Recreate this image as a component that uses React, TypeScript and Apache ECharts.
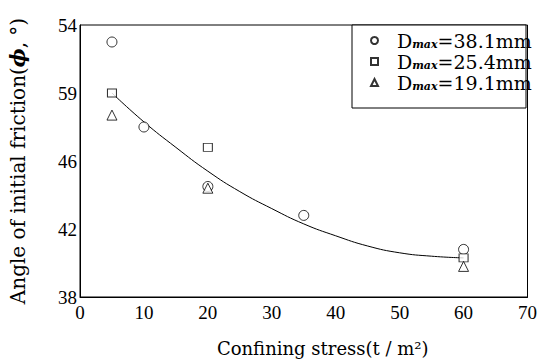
import React, { useEffect, useRef } from "react";
import * as echarts from "echarts";

const xTicks = [0, 10, 20, 30, 40, 50, 60, 70];
const yTickValues = [38, 42, 46, 50, 54];
const yTickLabels = ["38", "42", "46", "59", "54"];

const d381X = [5, 10, 20, 35, 60];
const d381Y = [53.0, 48.0, 44.5, 42.8, 40.8];
const d254X = [5, 20, 60];
const d254Y = [50.0, 46.8, 40.3];
const d191X = [5, 20, 60];
const d191Y = [48.7, 44.4, 39.8];

const curveX = [5, 10, 15, 20, 25, 30, 35, 40, 45, 50, 55, 60];
const curveY = [50.0, 48.3, 46.8, 45.4, 44.2, 43.2, 42.3, 41.6, 41.0, 40.6, 40.4, 40.3];

const seriesNames = ["38.1mm", "25.4mm", "19.1mm"];

const FONT = "Liberation Serif";
const FONT2 = "DejaVu Serif";

const pair = (xs: number[], ys: number[]) => xs.map((x, i) => [x, ys[i]]);

export default function App() {
  const ref = useRef<HTMLDivElement>(null);
  useEffect(() => {
    const chart = echarts.init(ref.current!, null, { renderer: "svg" });
    const markerStyle = { color: "#fff", borderColor: "#000", borderWidth: 1 };
    chart.setOption({
      animation: false,
      backgroundColor: "#fff",
      grid: { left: 78, right: 12, top: 25, bottom: 65, show: true, borderColor: "#000", borderWidth: 1 },
      graphic: [
        {
          type: "rect",
          z: 3,
          shape: { x: 352, y: 25, width: 174, height: 83 },
          style: { fill: "#fff", stroke: "#000", lineWidth: 1 },
        },
      ],
      xAxis: {
        type: "value",
        min: 0,
        max: 70,
        interval: 10,
        splitLine: { show: false },
        axisTick: { show: false },
        axisLine: { lineStyle: { color: "#000", width: 1 } },
        axisLabel: {
          color: "#000",
          fontFamily: FONT,
          fontSize: 19,
          margin: 6,
          formatter: (v: number) => (xTicks.includes(v) ? String(v) : ""),
        },
        name: "Confining stress(t / m²)",
        nameLocation: "middle",
        nameGap: 42,
        nameTextStyle: { color: "#000", fontFamily: FONT2, fontSize: 18, padding: [0, 0, 0, 38] },
      },
      yAxis: {
        type: "value",
        min: 38,
        max: 54,
        interval: 4,
        splitLine: { show: false },
        axisTick: { show: false },
        axisLine: { lineStyle: { color: "#000", width: 1 } },
        axisLabel: {
          color: "#000",
          fontFamily: FONT,
          fontSize: 19,
          margin: 3,
          formatter: (v: number) => {
            const i = yTickValues.indexOf(v);
            return i >= 0 ? yTickLabels[i] : "";
          },
        },
        name: "{a|Angle of initial friction(}{b|ϕ}{a|, °)}",
        nameLocation: "middle",
        nameGap: 52,
        nameRotate: 90,
        nameTextStyle: {
          color: "#000",
          rich: {
            a: { fontFamily: FONT2, fontSize: 20, color: "#000" },
            b: { fontFamily: FONT2, fontSize: 20, color: "#000", fontWeight: "bold", fontStyle: "italic" },
          },
        },
      },
      legend: {
        orient: "vertical",
        left: 352,
        top: 28,
        itemWidth: 7,
        itemHeight: 7,
        itemGap: 2,
        padding: [3, 0, 0, 18],
        z: 5,
        data: seriesNames,
        formatter: (name: string) => `{s|}{d|D}{m|max}{d|=${name}}`,
        textStyle: {
          color: "#000",
          rich: {
            s: { width: 14, lineHeight: 20 },
            d: { fontFamily: FONT2, fontSize: 19, color: "#000", lineHeight: 20 },
            m: { fontFamily: FONT2, fontSize: 11, color: "#000", fontStyle: "italic", fontWeight: "bold", lineHeight: 11, padding: [7, 0, 0, 0] },
          },
        },
      },
      series: [
        {
          type: "line",
          data: pair(curveX, curveY),
          smooth: true,
          showSymbol: false,
          lineStyle: { color: "#000", width: 1 },
          z: 1,
          silent: true,
        },
        {
          name: seriesNames[0],
          type: "scatter",
          symbol: "circle",
          symbolSize: 10,
          data: pair(d381X, d381Y),
          itemStyle: markerStyle,
          z: 3,
        },
        {
          name: seriesNames[1],
          type: "scatter",
          symbol: "rect",
          symbolSize: [9, 8],
          data: pair(d254X, d254Y),
          itemStyle: markerStyle,
          z: 3,
        },
        {
          name: seriesNames[2],
          type: "scatter",
          symbol: "triangle",
          symbolSize: 10,
          data: pair(d191X, d191Y),
          itemStyle: markerStyle,
          z: 3,
        },
      ],
    });
    return () => chart.dispose();
  }, []);
  return <div ref={ref} style={{ width: 540, height: 362, position: "absolute", left: 0, top: 0 }} />;
}
